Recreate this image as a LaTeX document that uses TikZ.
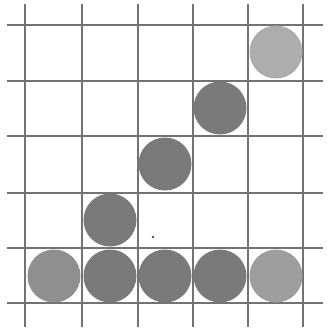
\documentclass[tikz,border=0pt]{standalone}
\begin{document}
\begin{tikzpicture}[x=1pt,y=-1pt,
  gridline/.style={draw=black!55,line width=1.1pt},
  ball/.style={circle,inner sep=0pt,minimum size=53pt,fill=#1},
  ball/.default=black!52]
\useasboundingbox[fill=white] (0,0) rectangle (328,330);
\foreach \x in {25,82,138,193,248,303}
  \draw[gridline] (\x,4) -- (\x,327);
\foreach \y in {25,81,136,193,248,303}
  \draw[gridline] (7,\y) -- (323,\y);
\node[ball=black!44] (b1) at (54,276) {};
\node[ball] (b2) at (110,276) {};
\node[ball] (b3) at (165,276) {};
\node[ball] (b4) at (220,276) {};
\node[ball=black!38] (b5) at (276,276) {};
\node[ball] (s1) at (110,220) {};
\node[ball] (s2) at (165,164) {};
\node[ball] (s3) at (220,108) {};
\node[ball=black!32] (s4) at (276,52) {};
\fill[black!70] (153,237) circle (1.3pt);
\end{tikzpicture}
\end{document}
